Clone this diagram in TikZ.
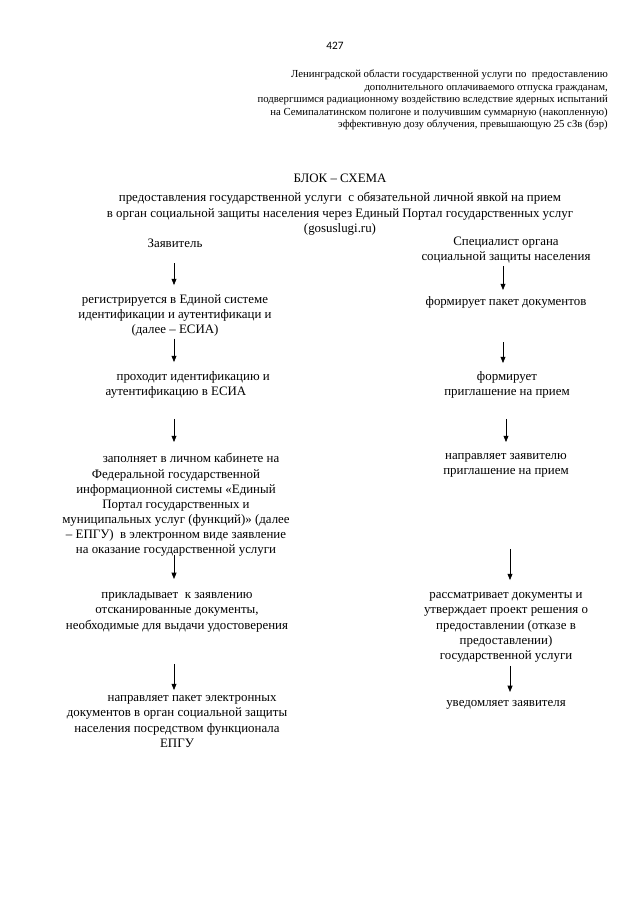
\documentclass[tikz,border=0pt]{standalone}
\usepackage{fontspec}
\setmainfont{Liberation Serif}
\newfontfamily\pagenofont{Carlito}
\usetikzlibrary{arrows.meta}

\begin{document}
\begin{tikzpicture}[
    x=0.93pt, y=-0.93pt,
    step text/.style={
        font=\fontsize{12}{14.1}\selectfont,
        align=center, anchor=north, inner sep=0pt,
        execute at begin node=\strut,
        execute at end node=\strut
    },
    head text/.style={
        font=\fontsize{10}{11.6}\selectfont,
        align=right, anchor=north east, inner sep=0pt,
        execute at begin node=\strut
    },
    flow/.style={
        line width=0.6pt,
        -{Triangle[width=4.6pt,length=5.8pt]}
    }
]
    \useasboundingbox (0,0) rectangle (640,905);

    % page number and header
    \node[font=\pagenofont\fontsize{10.5}{12}\selectfont, anchor=base, inner sep=0pt] (pageno) at (335,49) {427};
    \node[head text] (header) at (608,69.8) {%
        Ленинградской области государственной услуги по \ предоставлению\\
        дополнительного оплачиваемого отпуска гражданам,\\
        подвергшимся радиационному воздействию вследствие ядерных испытаний\\
        на Семипалатинском полигоне и получившим суммарную (накопленную)\\
        эффективную дозу облучения, превышающую 25 сЗв (бэр)};

    % title
    \node[step text] (title) at (340,171.4) {БЛОК – СХЕМА};
    \node[step text, font=\fontsize{12}{14.4}\selectfont] (subtitle) at (340,192.2) {%
        предоставления государственной услуги \ с обязательной личной явкой на прием\\
        в орган социальной защиты населения через Единый Портал государственных услуг\\
        (gosuslugi.ru)};

    % column coordinates for the arrows
    \coordinate (lx) at (174,0);
    \coordinate (rxa) at (503,0);
    \coordinate (rxb) at (506,0);
    \coordinate (rxc) at (510,0);

    % applicant
    \node[step text] (applicant) at (175,236.4) {Заявитель};
    \node[step text] (register) at (175,294.4) {%
        регистрируется в Единой системе\\
        идентификации и аутентификаци и\\
        (далее – ЕСИА)};
    \node[step text] (identify) at (176,371.4) {%
        \hspace*{32pt}проходит идентификацию и\\
        аутентификацию в ЕСИА};
    \node[step text] (fillin) at (176,453.4) {%
        \hspace*{28pt}заполняет в личном кабинете на\\
        Федеральной государственной\\
        информационной системы «Единый\\
        Портал государственных и\\
        муниципальных услуг (функций)» (далее\\
        – ЕПГУ) \ в электронном виде заявление\\
        на оказание государственной услуги};
    \node[step text] (attach) at (177,592.4) {%
        прикладывает \ к заявлению\\
        отсканированные документы,\\
        необходимые для выдачи удостоверения};
    \node[step text] (sendpkg) at (177,695.4) {%
        \hspace*{28pt}направляет пакет электронных\\
        документов в орган социальной защиты\\
        населения посредством функционала\\
        ЕПГУ};

    % specialist
    \node[step text] (specialist) at (506,236.4) {%
        Специалист органа\\
        социальной защиты населения};
    \node[step text] (formpkg) at (506,294.4) {формирует пакет документов};
    \node[step text] (forminv) at (507,371.4) {%
        формирует\\
        приглашение на прием};
    \node[step text] (sendinv) at (506,453.4) {%
        направляет заявителю\\
        приглашение на прием};
    \node[step text] (review) at (506,592.4) {%
        рассматривает документы и\\
        утверждает проект решения о\\
        предоставлении (отказе в\\
        предоставлении)\\
        государственной услуги};
    \node[step text] (notify) at (506,695.4) {уведомляет заявителя};

    % applicant arrows
    \draw[flow, shorten <=10.6pt, shorten >=8.7pt] (applicant.south -| lx) -- (register.north -| lx);
    \draw[flow, shorten <=0pt, shorten >=8.7pt] (register.south -| lx) -- (identify.north -| lx);
    \draw[flow, shorten <=17pt, shorten >=10.6pt] (identify.south -| lx) -- (fillin.north -| lx);
    \draw[flow, shorten <=-3.3pt, shorten >=12.5pt] (fillin.south -| lx) -- (attach.north -| lx);
    \draw[flow, shorten <=28pt, shorten >=5pt] (attach.south -| lx) -- (sendpkg.north -| lx);

    % specialist arrows
    \draw[flow, shorten <=1.2pt, shorten >=4.1pt] (specialist.south -| rxa) -- (formpkg.north -| rxa);
    \draw[flow, shorten <=30.1pt, shorten >=7.8pt] (formpkg.south -| rxa) -- (forminv.north -| rxa);
    \draw[flow, shorten <=17pt, shorten >=10.6pt] (forminv.south -| rxb) -- (sendinv.north -| rxb);
    \draw[flow, shorten <=64.4pt, shorten >=11.5pt] (sendinv.south -| rxc) -- (review.north -| rxc);
    \draw[flow, shorten <=1.7pt, shorten >=3.2pt] (review.south -| rxc) -- (notify.north -| rxc);

\end{tikzpicture}
\end{document}
